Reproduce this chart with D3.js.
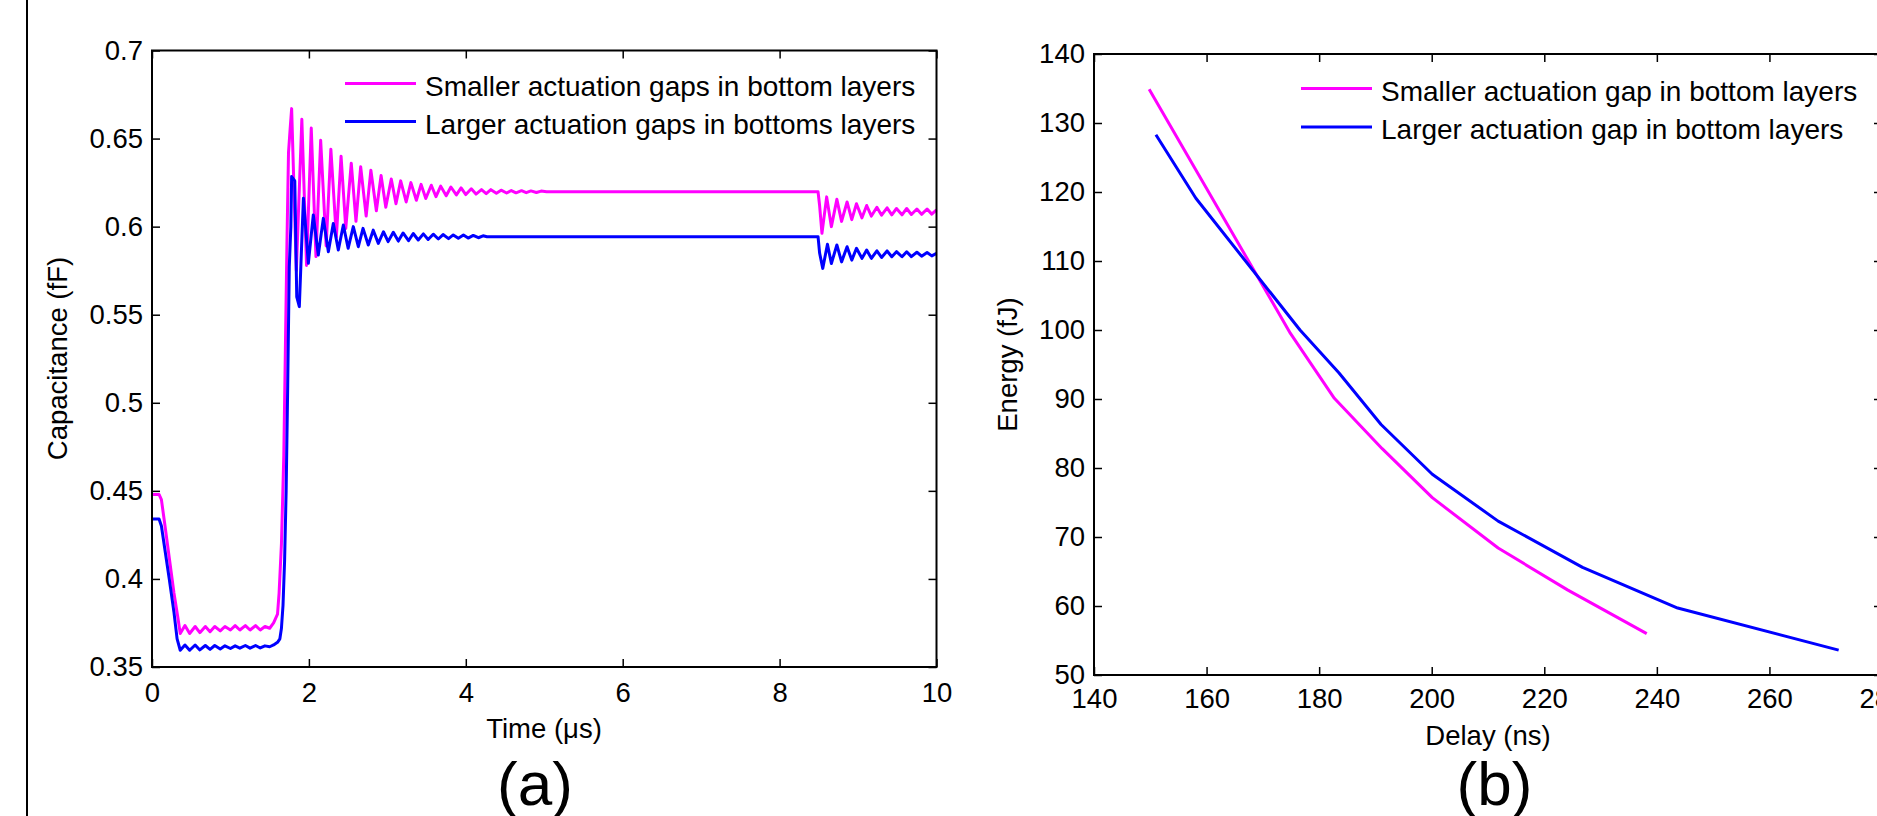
<!DOCTYPE html>
<html>
<head>
<meta charset="utf-8">
<script src="https://cdn.jsdelivr.net/npm/d3@7"></script>
<style>
  html, body { margin: 0; padding: 0; background: #fff; overflow: hidden; }
  svg { display: block; font-family: "Liberation Sans", Arial, sans-serif; }
</style>
</head>
<body>
<svg width="1877" height="816"></svg>
<script>
// (a) capacitance vs time, [time in us, capacitance in fF]
const capSmall = [
  [0,0.448],[0.09,0.448],[0.12,0.445],[0.16,0.432],[0.22,0.412],[0.28,0.392],[0.33,0.378],[0.36,0.369],
  [0.42,0.3735],[0.48,0.369],[0.55,0.373],[0.61,0.3695],[0.68,0.373],[0.74,0.370],[0.80,0.373],[0.87,0.3705],
  [0.93,0.373],[1.00,0.371],[1.06,0.3735],[1.12,0.371],[1.19,0.3735],[1.25,0.371],[1.32,0.3735],[1.38,0.371],
  [1.44,0.373],[1.50,0.372],[1.55,0.375],[1.60,0.38],[1.62,0.392],[1.65,0.42],[1.68,0.47],[1.70,0.53],
  [1.72,0.59],[1.74,0.642],[1.76,0.655],[1.78,0.667],
  [1.84,0.575],[1.91,0.661],[1.97,0.578],[2.03,0.656],[2.09,0.583],[2.15,0.649],[2.22,0.589],[2.28,0.644],
  [2.35,0.594],[2.41,0.640],[2.47,0.599],[2.54,0.636],[2.60,0.603],[2.66,0.634],[2.73,0.606],[2.79,0.632],
  [2.86,0.609],[2.92,0.629],[2.98,0.611],[3.05,0.627],[3.11,0.613],[3.17,0.626],[3.24,0.614],[3.30,0.625],
  [3.37,0.615],[3.43,0.624],[3.49,0.616],[3.56,0.6235],[3.62,0.617],[3.68,0.623],[3.75,0.6175],[3.81,0.6225],
  [3.88,0.618],[3.94,0.622],[4.00,0.6182],[4.07,0.6215],[4.13,0.6185],[4.20,0.621],[4.26,0.6187],[4.32,0.621],
  [4.39,0.619],[4.45,0.6207],[4.52,0.6191],[4.58,0.6205],[4.64,0.6192],[4.71,0.6204],[4.77,0.6193],[4.83,0.6203],
  [4.90,0.6194],[4.96,0.6202],[5.03,0.6198],
  [8.49,0.6198],[8.51,0.612],[8.54,0.5962],[8.60,0.6169],[8.66,0.600],[8.73,0.6155],[8.79,0.603],[8.86,0.614],
  [8.92,0.604],[8.98,0.613],[9.05,0.605],[9.11,0.612],[9.17,0.606],[9.24,0.611],[9.30,0.6065],[9.37,0.6107],
  [9.43,0.6067],[9.49,0.6103],[9.56,0.6067],[9.62,0.6103],[9.68,0.6069],[9.75,0.610],[9.81,0.607],[9.88,0.610],
  [9.94,0.6071],[10,0.6095]
];
const capLarge = [
  [0,0.434],[0.09,0.434],[0.12,0.43],[0.16,0.418],[0.22,0.40],[0.28,0.381],[0.32,0.366],[0.36,0.3595],
  [0.42,0.3625],[0.48,0.3595],[0.55,0.3625],[0.61,0.3597],[0.68,0.3622],[0.74,0.360],[0.80,0.3622],[0.87,0.3602],
  [0.93,0.362],[1.00,0.3605],[1.06,0.362],[1.12,0.3607],[1.19,0.3622],[1.25,0.3607],[1.32,0.3622],[1.38,0.3608],
  [1.44,0.362],[1.50,0.3615],[1.55,0.3625],[1.60,0.364],[1.63,0.366],[1.65,0.372],[1.67,0.385],[1.69,0.41],
  [1.71,0.45],[1.73,0.51],[1.75,0.5773],[1.77,0.60],[1.78,0.6284],[1.82,0.626],[1.845,0.5602],[1.878,0.5546],
  [1.93,0.6161],[1.993,0.5792],[2.056,0.6066],[2.12,0.5839],[2.184,0.6047],[2.248,0.5858],[2.311,0.6018],
  [2.375,0.5867],[2.439,0.6009],[2.50,0.5877],[2.566,0.60],[2.63,0.5886],[2.69,0.599],[2.757,0.5896],
  [2.82,0.598],[2.885,0.5905],[2.95,0.5971],[3.01,0.5915],[3.076,0.5968],[3.14,0.5918],[3.20,0.5964],
  [3.27,0.592],[3.33,0.5961],[3.394,0.5924],[3.459,0.5959],[3.52,0.5927],[3.585,0.5957],[3.65,0.593],
  [3.71,0.5955],[3.78,0.5932],[3.84,0.5953],[3.905,0.5934],[3.97,0.5952],[4.03,0.5935],[4.095,0.595],
  [4.16,0.5937],[4.22,0.5948],[4.27,0.5943],
  [8.49,0.5943],[8.51,0.585],[8.55,0.5763],[8.61,0.590],[8.66,0.5791],[8.73,0.5896],[8.79,0.580],[8.86,0.5886],
  [8.92,0.581],[8.98,0.5877],[9.05,0.582],[9.11,0.5867],[9.17,0.582],[9.24,0.5863],[9.30,0.5825],[9.37,0.5862],
  [9.43,0.5829],[9.49,0.5858],[9.56,0.5829],[9.62,0.5857],[9.68,0.583],[9.75,0.5855],[9.81,0.5832],[9.88,0.5853],
  [9.94,0.5834],[10,0.5848]
];
const timeTicks = [0, 2, 4, 6, 8, 10];
const capTicks = [0.35, 0.4, 0.45, 0.5, 0.55, 0.6, 0.65, 0.7];
const legendA = ["Smaller actuation gaps in bottom layers", "Larger actuation gaps in bottoms layers"];

// (b) energy vs delay
const delaySmall = [149.8, 174.9, 182.7, 191.2, 200.1, 211.8, 224.2, 238.2];
const energySmall = [134.9, 99.5, 90.1, 82.8, 75.7, 68.4, 62.3, 56.0];
const delayLarge = [151.0, 158.1, 176.6, 183.5, 191.0, 200.1, 211.8, 226.8, 243.7, 272.3];
const energyLarge = [128.3, 119.1, 100.0, 93.8, 86.3, 79.1, 72.3, 65.6, 59.7, 53.6];
const delayTicks = [140, 160, 180, 200, 220, 240, 260, 280];
const energyTicks = [50, 60, 70, 80, 90, 100, 110, 120, 130, 140];
const legendB = ["Smaller actuation gap in bottom layers", "Larger actuation gap in bottom layers"];

const colors = ["#ff00ff", "#0000ff"];
const fontSize = 27.5;

const svg = d3.select("svg");

// left page border
svg.append("line")
  .attr("x1", 27).attr("x2", 27).attr("y1", 0).attr("y2", 816)
  .attr("stroke", "#000").attr("stroke-width", 2);

function drawAxes(x, y, xTicks, yTicks, xPad, yPad) {
  const [x0, x1] = x.range();
  const [y0, y1] = y.range();
  const g = svg.append("g");
  const fmt = d => String(d);

  const styleAxis = sel => {
    sel.attr("font-size", fontSize).attr("font-family", null);
    sel.select(".domain").remove();
    sel.selectAll(".tick line").attr("stroke-width", 1.5);
    sel.selectAll(".tick text").attr("fill", "#000");
  };

  g.append("g").attr("transform", `translate(0,${y0})`)
    .call(d3.axisBottom(x).tickValues(xTicks).tickFormat(fmt).tickSize(-8).tickPadding(xPad))
    .call(styleAxis);
  g.append("g").attr("transform", `translate(0,${y1})`)
    .call(d3.axisTop(x).tickValues(xTicks).tickFormat("").tickSize(-8))
    .call(styleAxis);
  g.append("g").attr("transform", `translate(${x0},0)`)
    .call(d3.axisLeft(y).tickValues(yTicks).tickFormat(fmt).tickSize(-8).tickPadding(yPad))
    .call(styleAxis);
  g.append("g").attr("transform", `translate(${x1},0)`)
    .call(d3.axisRight(y).tickValues(yTicks).tickFormat("").tickSize(-8))
    .call(styleAxis);

  g.append("rect")
    .attr("x", x0).attr("y", y1)
    .attr("width", x1 - x0).attr("height", y0 - y1)
    .attr("fill", "none").attr("stroke", "#000").attr("stroke-width", 2);
}

function drawLegend(items, lx, ly, step) {
  items.forEach((name, i) => {
    const y = ly + i * step;
    svg.append("line")
      .attr("x1", lx).attr("x2", lx + 71).attr("y1", y).attr("y2", y)
      .attr("stroke", colors[i]).attr("stroke-width", 3);
    svg.append("text")
      .attr("x", lx + 80).attr("y", y + 12)
      .attr("font-size", 28)
      .text(name);
  });
}

// ---------- panel (a) ----------
const xA = d3.scaleLinear().domain([0, 10]).range([152, 936.5]);
const yA = d3.scaleLinear().domain([0.35, 0.7]).range([667, 50.5]);

const lineA = d3.line().x(d => xA(d[0])).y(d => yA(d[1]));
[capSmall, capLarge].forEach((s, i) => {
  svg.append("path")
    .datum(s)
    .attr("d", lineA)
    .attr("fill", "none")
    .attr("stroke", colors[i])
    .attr("stroke-width", 3)
    .attr("stroke-linejoin", "round");
});

drawAxes(xA, yA, timeTicks, capTicks, 15, 9);
drawLegend(legendA, 345, 83.5, 38);

svg.append("text")
  .attr("x", 544).attr("y", 738)
  .attr("text-anchor", "middle").attr("font-size", fontSize)
  .text("Time (\u03bcs)");
svg.append("text")
  .attr("transform", "translate(67,358.5) rotate(-90)")
  .attr("text-anchor", "middle").attr("font-size", fontSize)
  .text("Capacitance (fF)");
svg.append("text")
  .attr("x", 535).attr("y", 805)
  .attr("text-anchor", "middle").attr("font-size", 62)
  .text("(a)");

// ---------- panel (b) ----------
const xB = d3.scaleLinear().domain([140, 280]).range([1094, 1882]);
const yB = d3.scaleLinear().domain([50, 140]).range([675, 54]);

const lineB = d3.line().x(d => xB(d[0])).y(d => yB(d[1]));
const seriesB = [
  d3.zip(delaySmall, energySmall),
  d3.zip(delayLarge, energyLarge)
];
seriesB.forEach((s, i) => {
  svg.append("path")
    .datum(s)
    .attr("d", lineB)
    .attr("fill", "none")
    .attr("stroke", colors[i])
    .attr("stroke-width", 3)
    .attr("stroke-linejoin", "round");
});

drawAxes(xB, yB, delayTicks, energyTicks, 13, 9);
drawLegend(legendB, 1301, 88.5, 38.5);

svg.append("text")
  .attr("x", 1488).attr("y", 745)
  .attr("text-anchor", "middle").attr("font-size", fontSize)
  .text("Delay (ns)");
svg.append("text")
  .attr("transform", "translate(1017,364.5) rotate(-90)")
  .attr("text-anchor", "middle").attr("font-size", fontSize)
  .text("Energy (fJ)");
svg.append("text")
  .attr("x", 1494.5).attr("y", 805)
  .attr("text-anchor", "middle").attr("font-size", 62)
  .text("(b)");
</script>
</body>
</html>
